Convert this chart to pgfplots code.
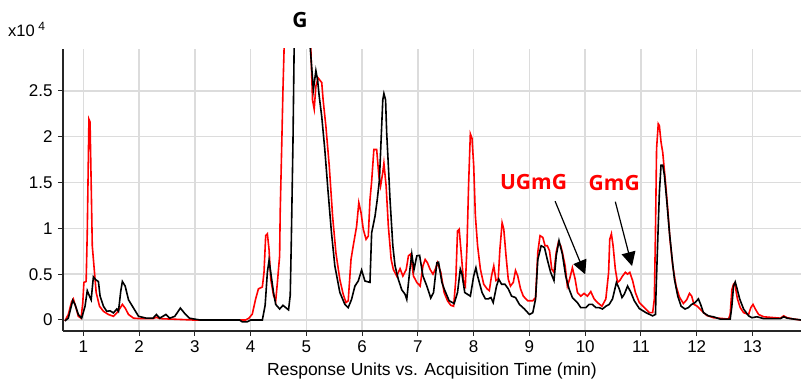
\documentclass[border=0pt]{standalone}
\usepackage{fontspec}
\setmainfont{Liberation Sans}
\newfontfamily\labfont{Open Sans}
\usepackage{pgfplots}
\pgfplotsset{compat=1.18}
\usetikzlibrary{arrows.meta}
\definecolor{gridc}{RGB}{220,220,220}
\definecolor{redc}{RGB}{255,0,0}

\pgfplotstableread{
x y
0.67 -0.01
0.73 0.06
0.79 0.20
0.82 0.23
0.87 0.13
0.91 0.04
0.96 0.02
0.99 0.19
1.01 0.41
1.05 0.42
1.07 0.95
1.10 2.19
1.12 2.16
1.14 1.50
1.16 0.81
1.19 0.59
1.23 0.30
1.29 0.15
1.36 0.095
1.45 0.06
1.54 0.04
1.60 0.077
1.66 0.13
1.70 0.17
1.75 0.13
1.81 0.06
1.90 0.02
2.01 0.015
2.25 0.015
2.31 0.03
2.37 0.015
2.97 0.0
3.91 0.0
3.97 0.02
4.03 0.065
4.09 0.23
4.14 0.34
4.21 0.36
4.24 0.52
4.27 0.92
4.30 0.94
4.33 0.77
4.36 0.45
4.41 0.27
4.45 0.21
4.48 0.41
4.52 0.70
4.53 1.17
4.56 1.97
4.58 2.52
4.60 2.96
4.62 3.6
5.04 3.6
5.08 2.95
5.11 2.40
5.14 2.30
5.17 2.55
5.21 2.64
5.275 2.59
5.30 2.40
5.35 2.11
5.41 1.68
5.47 1.13
5.53 0.73
5.60 0.44
5.66 0.28
5.71 0.19
5.75 0.21
5.80 0.66
5.84 0.81
5.90 1.02
5.94 1.28
5.98 1.17
6.02 0.99
6.07 0.88
6.11 0.915
6.14 1.31
6.17 1.51
6.21 1.86
6.26 1.86
6.30 1.57
6.33 1.46
6.37 1.61
6.39 1.71
6.43 1.46
6.47 1.02
6.52 0.66
6.56 0.55
6.62 0.48
6.68 0.56
6.73 0.48
6.79 0.55
6.83 0.70
6.87 0.72
6.92 0.48
6.98 0.41
7.04 0.37
7.09 0.59
7.13 0.66
7.17 0.625
7.22 0.55
7.27 0.50
7.31 0.55
7.35 0.625
7.41 0.52
7.47 0.30
7.53 0.21
7.59 0.16
7.64 0.15
7.68 0.445
7.71 0.97
7.74 0.99
7.78 0.70
7.82 0.41
7.85 0.37
7.88 0.81
7.91 1.50
7.94 2.03
7.97 1.98
8.00 1.69
8.03 1.14
8.07 0.81
8.12 0.555
8.18 0.39
8.24 0.34
8.28 0.32
8.32 0.48
8.36 0.59
8.40 0.43
8.44 0.445
8.47 0.77
8.51 1.06
8.54 0.99
8.58 0.70
8.62 0.445
8.66 0.37
8.71 0.41
8.75 0.54
8.79 0.48
8.84 0.34
8.89 0.26
8.97 0.21
9.06 0.21
9.11 0.245
9.15 0.74
9.19 0.92
9.24 0.90
9.28 0.81
9.32 0.81
9.36 0.755
9.40 0.555
9.44 0.52
9.48 0.74
9.52 0.85
9.56 0.81
9.59 0.74
9.64 0.59
9.68 0.37
9.72 0.445
9.77 0.57
9.82 0.445
9.86 0.30
9.92 0.26
9.98 0.29
10.04 0.26
10.10 0.31
10.16 0.23
10.22 0.19
10.30 0.15
10.37 0.23
10.42 0.52
10.44 0.88
10.47 0.94
10.50 0.81
10.54 0.555
10.58 0.41
10.62 0.43
10.67 0.48
10.72 0.52
10.76 0.50
10.80 0.52
10.85 0.43
10.90 0.30
10.97 0.19
11.06 0.135
11.15 0.08
11.21 0.08
11.24 0.23
11.26 0.96
11.28 1.87
11.31 2.14
11.33 2.12
11.36 1.94
11.39 1.83
11.44 1.50
11.48 1.21
11.52 0.88
11.57 0.59
11.63 0.37
11.69 0.25
11.76 0.18
11.82 0.22
11.87 0.29
11.91 0.26
11.95 0.17
12.01 0.15
12.09 0.10
12.18 0.05
12.30 0.025
12.57 0.01
12.60 0.06
12.63 0.33
12.66 0.39
12.69 0.37
12.73 0.23
12.78 0.135
12.84 0.08
12.93 0.06
12.97 0.135
13.01 0.17
13.05 0.12
13.11 0.06
13.20 0.035
13.50 0.02
13.56 0.045
13.62 0.025
13.74 0.01
13.87 0.0
}\redtrace

\pgfplotstableread{
x y
0.67 -0.01
0.73 0.02
0.81 0.215
0.85 0.17
0.91 0.06
0.97 0.02
1.03 0.15
1.07 0.32
1.11 0.26
1.14 0.22
1.18 0.47
1.22 0.44
1.27 0.42
1.30 0.26
1.36 0.15
1.42 0.095
1.48 0.10
1.54 0.077
1.60 0.12
1.63 0.095
1.67 0.31
1.70 0.42
1.75 0.37
1.81 0.22
1.90 0.13
1.99 0.04
2.13 0.02
2.25 0.02
2.31 0.06
2.37 0.02
2.48 0.06
2.55 0.02
2.64 0.04
2.74 0.13
2.81 0.077
2.90 0.02
3.09 0.0
3.80 0.0
3.85 -0.02
3.94 -0.02
4.00 0.0
4.21 0.0
4.26 0.16
4.30 0.52
4.33 0.65
4.36 0.52
4.41 0.30
4.45 0.17
4.52 0.12
4.58 0.16
4.62 0.14
4.68 0.11
4.71 0.27
4.73 0.88
4.76 1.97
4.78 2.96
4.80 3.6
5.03 3.6
5.07 2.96
5.125 2.51
5.17 2.72
5.20 2.62
5.23 2.44
5.275 2.22
5.33 1.86
5.39 1.39
5.45 0.95
5.51 0.59
5.60 0.30
5.69 0.17
5.75 0.135
5.81 0.225
5.87 0.37
5.93 0.425
5.99 0.545
6.05 0.425
6.14 0.41
6.17 0.95
6.23 1.13
6.27 1.31
6.31 1.53
6.34 1.97
6.37 2.40
6.39 2.47
6.42 2.40
6.44 2.04
6.47 1.68
6.50 1.31
6.55 0.81
6.59 0.59
6.65 0.44
6.71 0.33
6.77 0.28
6.80 0.225
6.85 0.52
6.89 0.72
6.93 0.55
6.98 0.70
7.03 0.705
7.09 0.48
7.16 0.37
7.23 0.24
7.28 0.30
7.34 0.625
7.37 0.63
7.43 0.41
7.47 0.34
7.56 0.21
7.65 0.18
7.71 0.30
7.76 0.555
7.79 0.50
7.84 0.30
7.94 0.26
8.00 0.48
8.04 0.57
8.07 0.48
8.15 0.30
8.21 0.23
8.26 0.23
8.31 0.245
8.35 0.19
8.41 0.37
8.45 0.445
8.50 0.39
8.56 0.39
8.62 0.34
8.68 0.26
8.75 0.245
8.82 0.17
8.91 0.12
9.00 0.06
9.06 0.08
9.11 0.23
9.15 0.66
9.21 0.81
9.27 0.79
9.32 0.66
9.38 0.52
9.44 0.43
9.48 0.70
9.53 0.865
9.59 0.72
9.65 0.48
9.71 0.34
9.77 0.245
9.86 0.19
9.92 0.135
10.01 0.135
10.07 0.17
10.13 0.17
10.19 0.135
10.25 0.135
10.31 0.12
10.37 0.15
10.43 0.17
10.49 0.23
10.56 0.41
10.61 0.34
10.66 0.245
10.70 0.28
10.76 0.37
10.82 0.30
10.88 0.21
10.97 0.125
11.09 0.08
11.21 0.045
11.26 0.06
11.27 0.30
11.30 0.85
11.33 1.39
11.36 1.69
11.39 1.69
11.42 1.58
11.46 1.32
11.51 0.96
11.56 0.66
11.60 0.445
11.66 0.26
11.72 0.15
11.79 0.12
11.85 0.135
11.91 0.17
11.97 0.19
12.03 0.23
12.07 0.17
12.12 0.08
12.21 0.045
12.30 0.035
12.42 0.01
12.60 0.01
12.63 0.15
12.66 0.37
12.69 0.415
12.72 0.35
12.77 0.23
12.84 0.12
12.93 0.045
12.99 0.025
13.08 0.035
13.20 0.015
13.50 0.015
13.56 0.035
13.62 0.02
13.74 0.01
13.87 0.0
}\blacktrace

\begin{document}
\begin{tikzpicture}
\begin{axis}[
  scale only axis,
  width=738pt, height=282pt,
  xmin=0.635, xmax=13.87,
  ymin=-0.12, ymax=2.956,
  axis lines*=left,
  axis line style={black!85, line width=1.2pt},
  xtick={1,2,...,13},
  ytick={0,0.5,1,1.5,2,2.5},
  yticklabels={0,0.5,1,1.5,2,2.5},
  grid=major,
  major grid style={gridc, line width=1.5pt},
  tick style={black!85, line width=1pt},
  tick align=outside,
  major tick length=5pt,
  /pgf/number format/assume math mode=true,
  ticklabel style={font=\fontsize{17}{17}\selectfont},
  yticklabel style={xshift=-2pt},
  xticklabel style={yshift=-1pt},
  xlabel={Response Units vs. Acquisition Time (min)},
  xlabel style={font=\fontsize{17.5}{18}\selectfont, at={(axis description cs:0.5,0)}, anchor=base, yshift=-44.5pt},
]
\addplot[redc, line width=1.6pt] table[x=x,y=y] {\redtrace};
\addplot[black, line width=1.6pt] table[x=x,y=y] {\blacktrace};
\coordinate (BL) at (rel axis cs:0,0);
\coordinate (TR) at (rel axis cs:1,1);
\coordinate (TL) at (rel axis cs:0,1);
\coordinate (gpos) at (axis cs:4.886,3.275);
\coordinate (ugmg) at (axis cs:9.074,1.503);
\coordinate (gmg) at (axis cs:10.52,1.497);
\coordinate (a1s) at (axis cs:9.46,1.296);
\coordinate (a1e) at (axis cs:10.0,0.498);
\coordinate (a2s) at (axis cs:10.54,1.29);
\coordinate (a2e) at (axis cs:10.84,0.588);
\end{axis}
\node[font=\labfont\bfseries\fontsize{21}{21}\selectfont, inner sep=0pt] at (gpos) {G};
\node[font=\labfont\bfseries\fontsize{21}{21}\selectfont, text=redc, inner sep=0pt] at (ugmg) {UGmG};
\node[font=\labfont\bfseries\fontsize{21}{21}\selectfont, text=redc, inner sep=0pt] at (gmg) {GmG};
\draw[black, line width=1.2pt, -{Triangle[length=14pt,width=14pt]}] (a1s) -- (a1e);
\draw[black, line width=1.2pt, -{Triangle[length=14pt,width=14pt]}] (a2s) -- (a2e);
\node[anchor=base west, inner sep=0pt, font=\fontsize{16.5}{16.5}\selectfont] at ([shift={(-55pt,12pt)}]TL) {x10\hspace{3.5pt}\raisebox{6.5pt}{\fontsize{12}{12}\selectfont 4}};
\pgfresetboundingbox
\path ([shift={(-63pt,-51.3pt)}]BL) rectangle ([shift={(0pt,49pt)}]TR);
\end{tikzpicture}
\end{document}
